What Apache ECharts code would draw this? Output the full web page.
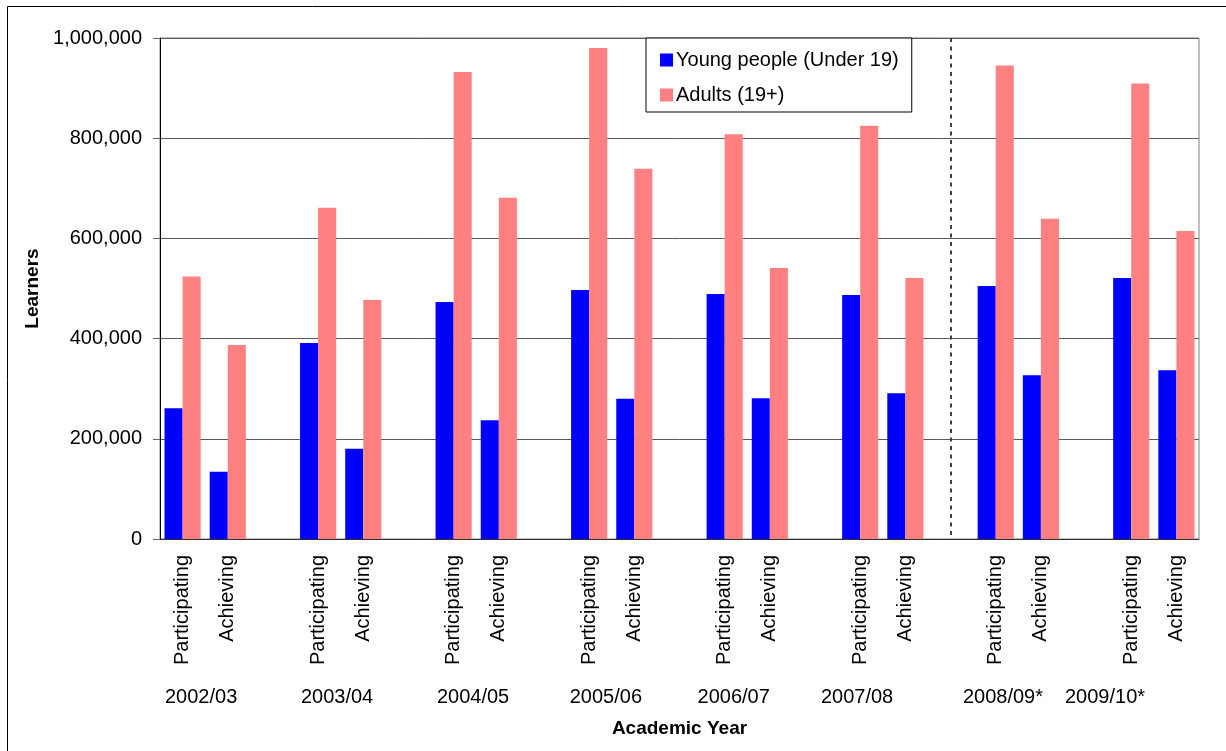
<!DOCTYPE html>
<html>
<head>
<meta charset="utf-8">
<script src="https://cdn.jsdelivr.net/npm/echarts@6/dist/echarts.min.js"></script>
<style>
html,body{margin:0;padding:0;background:#fff;}
#chart{width:1226px;height:751px;}
</style>
</head>
<body>
<div id="chart"></div>
<script>
// ---- data ----
const years = ['2002/03','2003/04','2004/05','2005/06','2006/07','2007/08','2008/09*','2009/10*'];
const stages = ['Participating','Achieving'];
const youngParticipating = [261000, 391000, 473000, 497000, 489000, 487000, 505000, 521000];
const youngAchieving     = [134000, 180000, 237000, 280000, 281000, 291000, 327000, 337000];
const adultParticipating = [524000, 661000, 932000, 980000, 808000, 825000, 945000, 909000];
const adultAchieving     = [387000, 477000, 681000, 739000, 541000, 521000, 639000, 615000];
const yTicks = [0, 200000, 400000, 600000, 800000, 1000000];
const seriesNames = ['Young people (Under 19)', 'Adults (19+)'];
const dividerAfterYear = '2007/08';

// ---- layout constants (label placement, in category-slot units) ----
const yearLabelSlot = [0.91, 3.92, 6.93, 9.87, 12.7, 15.43, 18.66, 20.92];

// build categories: Participating, Achieving, spacer per year (no trailing spacer)
const categories = [];
const youngData = [];
const adultData = [];
years.forEach((y, i) => {
  categories.push(y + '|' + stages[0]); youngData.push(youngParticipating[i]); adultData.push(adultParticipating[i]);
  categories.push(y + '|' + stages[1]); youngData.push(youngAchieving[i]); adultData.push(adultAchieving[i]);
  if (i < years.length - 1) { categories.push(y + '|'); youngData.push('-'); adultData.push('-'); }
});

const FONT = '"Liberation Sans", Arial, sans-serif';
const chart = echarts.init(document.getElementById('chart'));
chart.setOption({
  backgroundColor: '#ffffff',
  animation: false,
  textStyle: { fontFamily: FONT, color: '#000' },
  graphic: [{
    type: 'rect', silent: true, z: 100,
    shape: { x: 7.5, y: 6.5, width: 1400, height: 900 },
    style: { fill: 'none', stroke: '#000', lineWidth: 1 }
  }],
  grid: { left: 160, right: 27, top: 38, bottom: 212, show: true, borderColor: '#808080', borderWidth: 1, backgroundColor: 'transparent' },
  legend: {
    orient: 'vertical', left: 646, top: 38,
    padding: [12, 13, 7, 14], itemGap: 15,
    itemWidth: 13, itemHeight: 13, icon: 'rect',
    backgroundColor: '#fff', borderColor: '#000', borderWidth: 1,
    textStyle: { fontFamily: FONT, fontSize: 20, color: '#000', padding: [0, 0, 0, -2] },
    data: seriesNames
  },
  xAxis: [{
    type: 'category', data: categories, position: 'bottom',
    axisLine: { show: true, lineStyle: { color: '#303030', width: 1 } },
    axisTick: { show: false },
    splitLine: { show: false },
    axisLabel: {
      interval: 0, rotate: 90, margin: 16, fontSize: 20, color: '#000', fontFamily: FONT,
      formatter: v => v.split('|')[1] || ''
    }
  }, {
    type: 'value', min: 0, max: categories.length, position: 'bottom',
    axisLine: { show: false }, axisTick: { show: false }, splitLine: { show: false },
    axisLabel: {
      show: true, margin: 148, fontSize: 20, color: '#000', fontFamily: FONT,
      customValues: yearLabelSlot,
      formatter: v => {
        let best = 0, d = Infinity;
        yearLabelSlot.forEach((p, i) => { if (Math.abs(p - v) < d) { d = Math.abs(p - v); best = i; } });
        return years[best];
      }
    },
    name: 'Academic Year', nameLocation: 'middle', nameGap: 180,
    nameTextStyle: { fontFamily: FONT, fontSize: 19, fontWeight: 'bold', color: '#000' }
  }],
  yAxis: {
    type: 'value', min: yTicks[0], max: yTicks[yTicks.length - 1], interval: yTicks[1] - yTicks[0],
    axisLine: { show: true, lineStyle: { color: '#000', width: 1 } },
    axisTick: { show: true, length: 7, lineStyle: { color: '#666' } },
    splitLine: { show: true, lineStyle: { color: '#5a5a5a', width: 1 } },
    axisLabel: {
      margin: 18, fontSize: 20, color: '#000', fontFamily: FONT,
      formatter: v => v.toLocaleString('en-US')
    },
    name: 'Learners', nameLocation: 'middle', nameGap: 115,
    nameTextStyle: { fontFamily: FONT, fontSize: 19, fontWeight: 'bold', color: '#000' }
  },
  series: [{
    name: seriesNames[0], type: 'bar', data: youngData,
    barCategoryGap: '20%', barGap: '0%',
    itemStyle: { color: '#0000FF' }
  }, {
    name: seriesNames[1], type: 'bar', data: adultData,
    barCategoryGap: '20%', barGap: '0%',
    itemStyle: { color: '#FF8080' }
  }, {
    name: 'divider', type: 'line', data: [], silent: true,
    markLine: {
      silent: true, symbol: ['none', 'none'], label: { show: false },
      lineStyle: { color: '#404040', type: [4, 4.5], width: 2 },
      data: [[{ xAxis: dividerAfterYear + '|', yAxis: yTicks[yTicks.length - 1] }, { xAxis: dividerAfterYear + '|', yAxis: yTicks[0] }]]
    }
  }]
});
</script>
</body>
</html>
